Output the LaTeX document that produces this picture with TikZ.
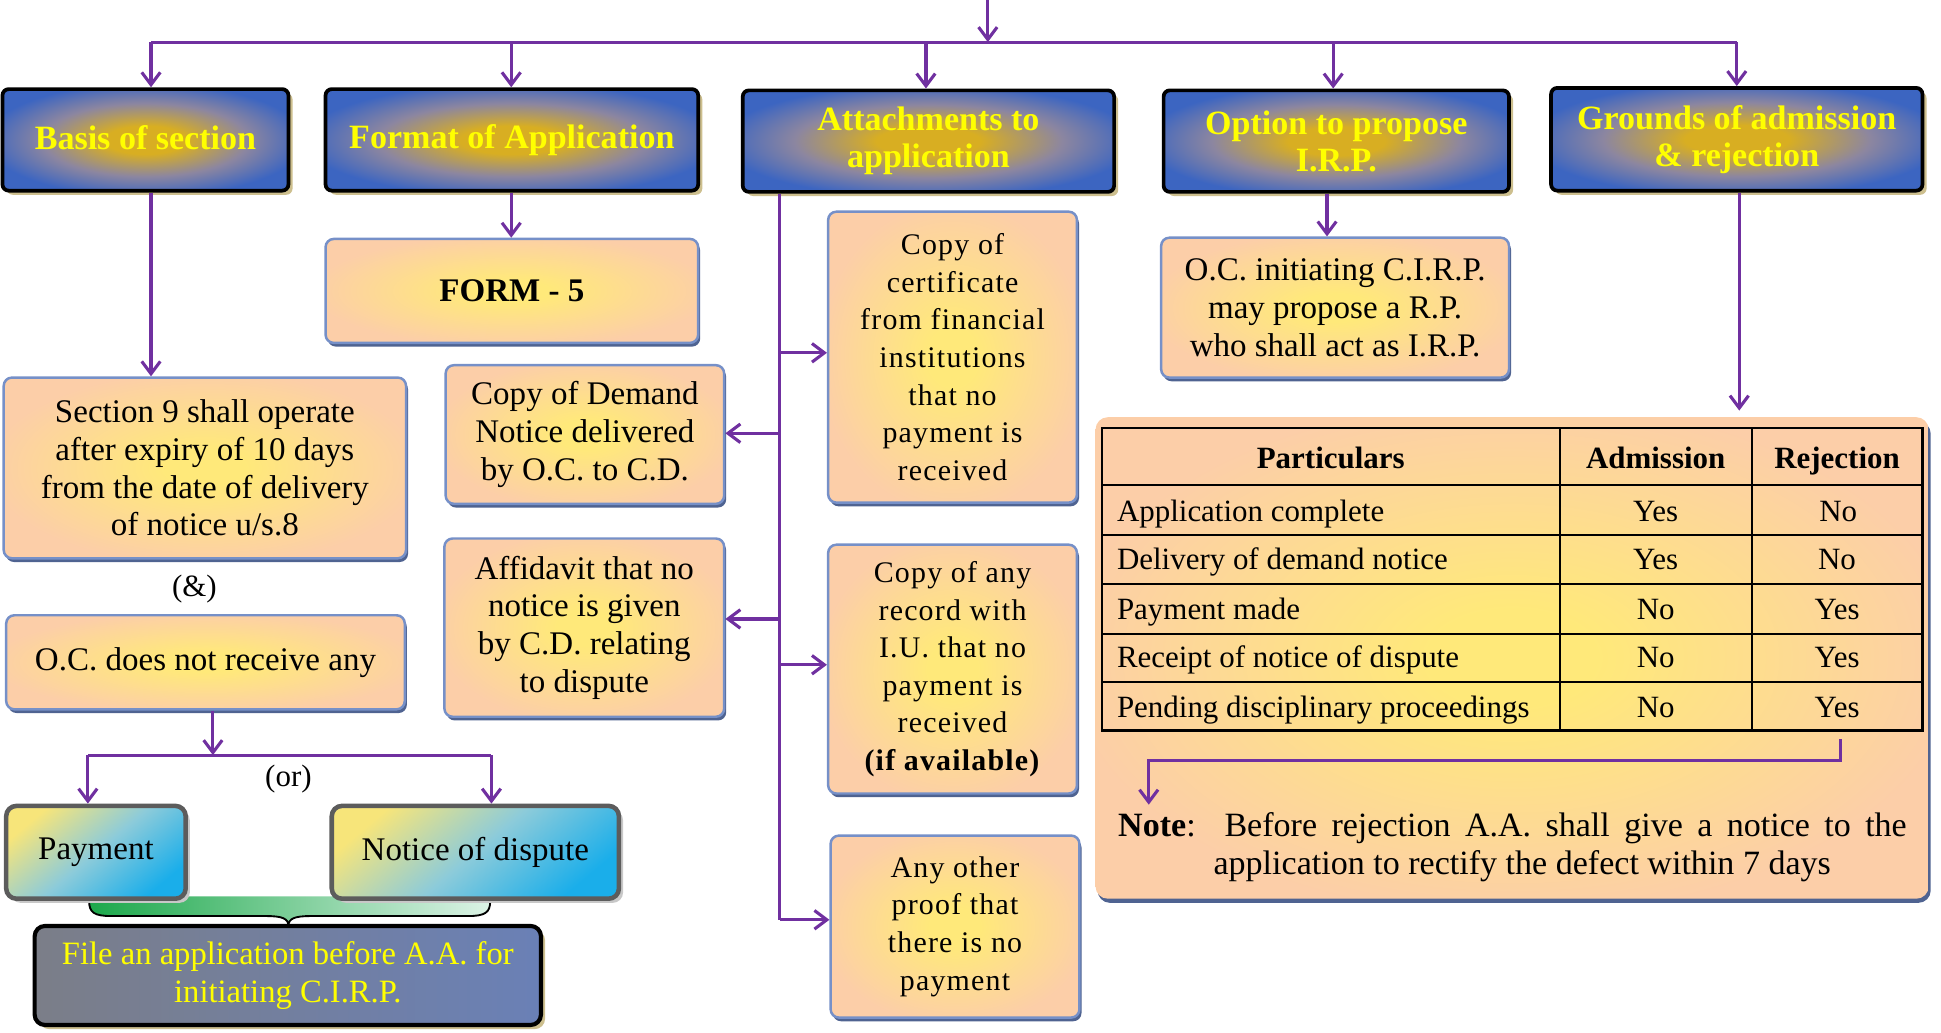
\documentclass[tikz,border=0pt]{standalone}
\usepackage{fontspec}
\setmainfont{Liberation Serif}
\newfontfamily\widefont{Liberation Serif}[LetterSpace=4.0]
\usetikzlibrary{arrows.meta,shadows}

\definecolor{purp}{HTML}{7030A0}
\definecolor{hdrblue}{HTML}{3C65C1}
\definecolor{hdrgold}{HTML}{D8AE22}
\definecolor{hdrmid}{HTML}{8C86A0}
\definecolor{hdrshadow}{HTML}{CDBF8E}
\definecolor{hdrtext}{HTML}{FFFF00}
\definecolor{peach}{HTML}{FCCEA8}
\definecolor{glow}{HTML}{FFE97A}
\definecolor{pborder}{HTML}{7690C8}
\definecolor{pshadow}{HTML}{4F6391}
\definecolor{payframe}{HTML}{5C5C5C}
\definecolor{payshadow}{HTML}{C8C8C8}
\definecolor{payY}{HTML}{F7E57A}
\definecolor{payM}{HTML}{8CCBDA}
\definecolor{payC}{HTML}{1AAEEA}
\definecolor{fileL}{HTML}{7B7E88}
\definecolor{fileR}{HTML}{6A80B6}
\definecolor{braceL}{HTML}{1CA84B}
\definecolor{braceR}{HTML}{DCF3E6}

\pgfdeclareradialshading{peachglow}{\pgfpoint{0bp}{0bp}}{color(0bp)=(glow); color(5bp)=(glow); color(27bp)=(peach); color(50bp)=(peach)}
\pgfdeclareradialshading{goldglow}{\pgfpoint{0bp}{0bp}}{color(0bp)=(hdrgold); color(7bp)=(hdrgold); color(18bp)=(hdrmid); color(28bp)=(hdrblue); color(50bp)=(hdrblue)}

\begin{document}
\begin{tikzpicture}[x=0.6pt,y=-0.6pt,
  wh/.style 2 args={minimum width=#1*0.6pt,minimum height=#2*0.6pt},
  line/.style={draw=purp,line width=1.5pt},
  arr/.style={line,-{Straight Barb[length=6pt,width=9pt]}},
  hdr/.style={draw=black,line width=1.8pt,rounded corners=3pt,shade,shading=goldglow,
    drop shadow={shadow xshift=2pt,shadow yshift=-2pt,fill=hdrshadow,opacity=1},
    text=hdrtext,font=\fontsize{16.5}{18}\selectfont\bfseries,align=center,inner sep=0pt},
  pbox/.style={draw=pborder,line width=1.2pt,rounded corners=4pt,shade,shading=peachglow,
    drop shadow={shadow xshift=1pt,shadow yshift=-1.8pt,fill=pshadow,opacity=1},
    font=\fontsize{16}{18.3}\selectfont,align=center,inner sep=0pt},
  wbox/.style={pbox,font=\widefont\fontsize{14.5}{18.2}\selectfont},
  paybox/.style={draw=payframe,line width=2.2pt,rounded corners=5pt,
    top color=payY,bottom color=payC,middle color=payM,shading angle=40,
    drop shadow={shadow xshift=2pt,shadow yshift=-2pt,fill=payshadow,opacity=1},
    font=\fontsize{16}{18}\selectfont,align=center,inner sep=0pt},
  filebox/.style={draw=black,line width=2pt,rounded corners=5pt,left color=fileL,right color=fileR,
    drop shadow={shadow xshift=2pt,shadow yshift=-2pt,fill=hdrshadow,opacity=1},
    text=hdrtext,font=\fontsize{15.8}{18.3}\selectfont,align=center,inner sep=0pt},
  lbl/.style={font=\fontsize{15}{17}\selectfont,inner sep=0pt},
  cell/.style={font=\fontsize{15}{17}\selectfont,inner sep=0pt,text height=12pt,text depth=2pt},
  hcell/.style={cell,font=\fontsize{15}{17}\selectfont\bfseries},
  grid/.style={draw=black,line width=1.1pt}]

\useasboundingbox (0,0) rectangle (1568,834);

% ---- header row ----
\node[hdr,wh={231}{82}] (hdr1) at (117.5,113) {\raisebox{2pt}{Basis of section}};
\node[hdr,wh={301}{82}] (hdr2) at (413.5,113) {\raisebox{2pt}{Format of Application}};
\node[hdr,wh={300}{82}] (hdr3) at (750,114) {Attachments to\\application};
\node[hdr,wh={279}{82}] (hdr4) at (1079.5,114) {Option to propose\\I.R.P.};
\node[hdr,wh={300}{83}] (hdr5) at (1403,112.5) {Grounds of admission\\\& rejection};

% ---- distribution bus ----
\coordinate (topin) at (798,0);
\coordinate (busmid) at (798,34);
\coordinate (bus1) at (122,34);
\coordinate (bus2) at (413,34);
\coordinate (bus3) at (748,34);
\coordinate (bus4) at (1077,34);
\coordinate (bus5) at (1403,34);
\draw[line] (bus1) -- (bus5);
\draw[arr] (topin) -- (busmid);
\draw[arr] (bus1) -- (bus1 |- hdr1.north);
\draw[arr] (bus2) -- (bus2 |- hdr2.north);
\draw[arr] (bus3) -- (bus3 |- hdr3.north);
\draw[arr] (bus4) -- (bus4 |- hdr4.north);
\draw[arr] (bus5) -- (bus5 |- hdr5.north);

% ---- basis of section column ----
\node[pbox,wh={325}{146}] (sec) at (165.5,378)
  {Section 9 shall operate\\after expiry of 10 days\\from the date of delivery\\of notice u/s.8};
\draw[arr] (hdr1.south -| bus1) -- (sec.north -| bus1);
\node[lbl] (amp) at (157,476) {(\&)};
\node[pbox,wh={322}{76}] (oc) at (166,535) {O.C. does not receive any};

\coordinate (ocfork) at (172,610);
\coordinate (forkL) at (71,610);
\coordinate (forkR) at (397,610);
\draw[line] (forkL) -- (forkR);
\draw[arr] (oc.south -| ocfork) -- (ocfork);
\node[lbl] (orlbl) at (233,629) {(or)};

% brace joining the two outcomes
\path[left color=braceL,right color=braceR]
  (72,724) -- (72,728) .. controls (72,737) and (76,740) .. (90,740) -- (215,740)
  .. controls (228,740) and (233,742) .. (233,748)
  .. controls (233,742) and (238,740) .. (251,740) -- (378,740)
  .. controls (392,740) and (396,737) .. (396,728) -- (396,724) -- cycle;
\draw[black,line width=0.9pt]
  (72,728) .. controls (72,737) and (76,740) .. (90,740) -- (215,740)
  .. controls (228,740) and (233,742) .. (233,748)
  .. controls (233,742) and (238,740) .. (251,740) -- (378,740)
  .. controls (392,740) and (396,737) .. (396,728);

\node[paybox,wh={145}{75}] (pay) at (77.5,688.5) {Payment};
\node[paybox,wh={232}{75}] (dis) at (384,688.5) {Notice of dispute};
\draw[arr] (forkL) -- (forkL |- pay.north);
\draw[arr] (forkR) -- (forkR |- dis.north);

\node[filebox,wh={409}{80}] (file) at (232.5,788)
  {File an application before A.A. for\\initiating C.I.R.P.};

% ---- format of application ----
\node[pbox,wh={301}{84}] (form) at (413.5,235) {\textbf{FORM - 5}};
\draw[arr] (hdr2.south -| bus2) -- (form.north -| bus2);

% ---- attachments ----
\node[pbox,wh={225}{112}] (dem) at (472.5,351) {Copy of Demand\\Notice delivered\\by O.C. to C.D.};
\node[pbox,wh={226}{144}] (aff) at (472,507) {Affidavit that no\\notice is given\\by C.D. relating\\to dispute};
\node[wbox,wh={201}{235}] (cert) at (769.5,288.5)
  {Copy of\\certificate\\from financial\\institutions\\that no\\payment is\\received};
\node[wbox,wh={201}{201}] (rec) at (769.5,540.5)
  {Copy of any\\record with\\I.U. that no\\payment is\\received\\\textbf{(if available)}};
\node[wbox,wh={201}{147}] (oth) at (771.5,748.5)
  {Any other\\proof that\\there is no\\payment};

\coordinate (s1) at (630,285);
\coordinate (s2) at (630,350);
\coordinate (s3) at (630,500);
\coordinate (s4) at (630,537);
\coordinate (s5) at (630,743);
\draw[line] (hdr3.south -| s1) -- (s5);
\draw[arr] (s1) -- (s1 -| cert.west);
\draw[arr] (s2) -- (s2 -| dem.east);
\draw[arr] (s3) -- (s3 -| aff.east);
\draw[arr] (s4) -- (s4 -| rec.west);
\draw[arr] (s5) -- (s5 -| oth.west);

% ---- option to propose I.R.P. ----
\coordinate (irpx) at (1072,0);
\node[pbox,wh={281}{113}] (irp) at (1078.5,248.5)
  {O.C. initiating C.I.R.P.\\may propose a R.P.\\who shall act as I.R.P.};
\draw[arr] (hdr4.south -| irpx) -- (irp.north -| irpx);

% ---- grounds of admission & rejection ----
\node[draw=none,rounded corners=6pt,shade,shading=peachglow,wh={673}{389},
  drop shadow={shadow xshift=1pt,shadow yshift=-2pt,fill=pshadow,opacity=1}] (panel) at (1221.5,531.5) {};
\coordinate (grx) at (1405,0);
\draw[arr] (hdr5.south -| grx) -- ([yshift=3pt]panel.north -| grx);

% table grid
\draw[grid] (890,346) rectangle (1553,590);
\foreach \yy in {392,432,472,512,551} \draw[grid] (890,\yy) -- (1553,\yy);
\draw[grid] (1260,346) -- (1260,590);
\draw[grid] (1415,346) -- (1415,590);

\node[hcell] (th1) at (1075,370) {Particulars};
\node[hcell] (th2) at (1337.5,370) {Admission};
\node[hcell] (th3) at (1484,370) {Rejection};

\node[cell,anchor=west] (r1) at (902,413) {Application complete};
\node[cell,anchor=west] (r2) at (902,452) {Delivery of demand notice};
\node[cell,anchor=west] (r3) at (902,492) {Payment made};
\node[cell,anchor=west] (r4) at (902,531) {Receipt of notice of dispute};
\node[cell,anchor=west] (r5) at (902,571) {Pending disciplinary proceedings};

\node[cell] (a1) at (1337.5,413) {Yes};
\node[cell] (a2) at (1337.5,452) {Yes};
\node[cell] (a3) at (1337.5,492) {No};
\node[cell] (a4) at (1337.5,531) {No};
\node[cell] (a5) at (1337.5,571) {No};

\node[cell] (b1) at (1485,413) {No};
\node[cell] (b2) at (1484,452) {No};
\node[cell] (b3) at (1484,492) {Yes};
\node[cell] (b4) at (1484,531) {Yes};
\node[cell] (b5) at (1484,571) {Yes};

% note below the table
\coordinate (tstart) at (1487,597);
\coordinate (noteturn) at (928,614);
\coordinate (notetip) at (928,650);
\draw[arr] (tstart) |- (noteturn) -- (notetip);

\node[anchor=west,inner sep=0pt,font=\fontsize{16.5}{18}\selectfont] (note1) at (903,669)
  {\makebox[382.2pt][s]{\textbf{Note}:\ \ Before rejection A.A. shall give a notice to the}};
\node[anchor=west,inner sep=0pt,font=\fontsize{16.5}{18}\selectfont] (note2) at (980,700)
  {application to rectify the defect within 7 days};

\end{tikzpicture}
\end{document}
